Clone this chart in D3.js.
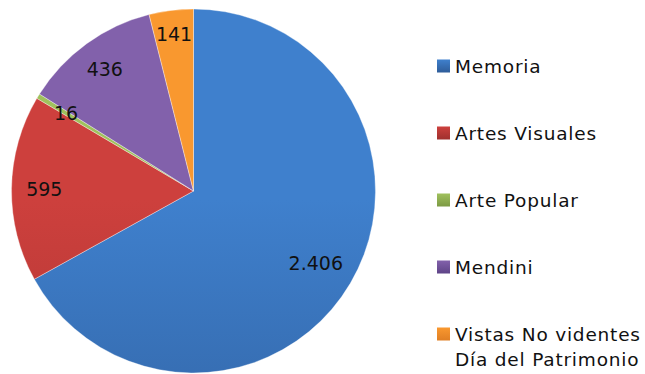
<!DOCTYPE html>
<html>
<head>
<meta charset="utf-8">
<script src="https://cdn.jsdelivr.net/npm/d3@7"></script>
<style>
  html, body { margin: 0; padding: 0; background: #fff; }
  svg { display: block; }
  text { font-family: "DejaVu Sans", "Lato", sans-serif; fill: #111; }
</style>
</head>
<body>
<svg id="chart" width="645" height="374"></svg>
<script>
// Visitors per activity
const categories = ["Memoria", "Artes Visuales", "Arte Popular", "Mendini", "Vistas No videntes|Día del Patrimonio"];
const values = [2406, 595, 16, 436, 141];
const valueLabels = ["2.406", "595", "16", "436", "141"];
// light (top) and dark (bottom) shades per slice
const topColors = ["#3f80cd", "#cd403d", "#a0c15d", "#8261ab", "#f9982f"];
const bottomColors = ["#2e5c99", "#9f302e", "#7c9a44", "#5e4487", "#e07f24"];

const svg = d3.select("#chart");
const cx = 193.5, cy = 191, r = 182;

const defs = svg.append("defs");
categories.forEach((c, i) => {
  const g = defs.append("linearGradient")
    .attr("id", "grad" + i)
    .attr("gradientUnits", "userSpaceOnUse")
    .attr("x1", 0).attr("y1", cy - r)
    .attr("x2", 0).attr("y2", cy + r);
  g.append("stop").attr("offset", "0%").attr("stop-color", topColors[i]);
  g.append("stop").attr("offset", "100%").attr("stop-color", bottomColors[i]);

  const lgGrad = defs.append("linearGradient")
    .attr("id", "lgrad" + i)
    .attr("x1", 0).attr("y1", 0).attr("x2", 0).attr("y2", 1);
  lgGrad.append("stop").attr("offset", "0%").attr("stop-color", topColors[i]);
  lgGrad.append("stop").attr("offset", "100%").attr("stop-color", bottomColors[i]);
});

const pie = d3.pie().sort(null).value(d => d)(values);
const arc = d3.arc().innerRadius(0).outerRadius(r);

const g = svg.append("g").attr("transform", `translate(${cx},${cy})`);

g.selectAll("path.slice")
  .data(pie)
  .join("path")
  .attr("class", "slice")
  .attr("d", arc)
  .attr("fill", (d, i) => `url(#grad${i})`)
  .attr("stroke", "rgba(255,255,255,0.35)")
  .attr("stroke-width", 1)
  .attr("stroke-linejoin", "round");

// value labels placed along each slice's bisector
const labelRadius = [0.78, 0.82, 0.82, 0.83, 0.87];
g.selectAll("text.val")
  .data(pie)
  .join("text")
  .attr("class", "val")
  .attr("transform", (d, i) => {
    const a = (d.startAngle + d.endAngle) / 2;
    const rr = r * labelRadius[i];
    return `translate(${Math.sin(a) * rr},${-Math.cos(a) * rr})`;
  })
  .attr("text-anchor", "middle")
  .attr("dy", "0.36em")
  .style("font-size", "19px")
  .text((d, i) => valueLabels[i]);

// legend
const legendY = d3.scalePoint().domain(categories).range([66, 334]);
const lg = svg.append("g");
categories.forEach((c, i) => {
  const y = legendY(c);
  lg.append("rect")
    .attr("x", 437).attr("y", y - 6.5)
    .attr("width", 13).attr("height", 13)
    .attr("fill", `url(#lgrad${i})`);
  const lines = c.split("|");
  const t = lg.append("text")
    .attr("x", 455).attr("y", y)
    .style("font-size", "18.5px")
    .style("letter-spacing", "0.8px");
  lines.forEach((ln, j) => {
    t.append("tspan").attr("x", 455).attr("dy", j === 0 ? "0.36em" : "25.5px").text(ln);
  });
});
</script>
</body>
</html>
